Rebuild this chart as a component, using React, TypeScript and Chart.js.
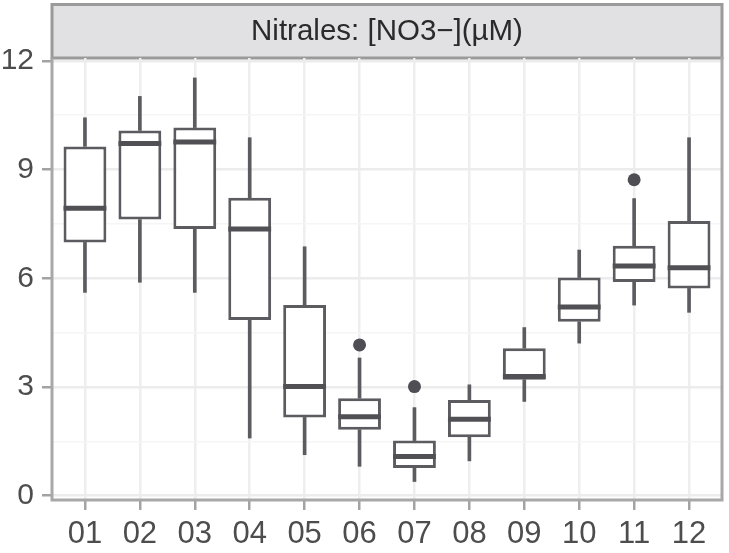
import React, { useEffect, useRef } from 'react';
import { Chart, registerables } from 'chart.js';

Chart.register(...registerables);

const stripLabel = 'Nitrales: [NO3\u2212](\u00b5M)';
const months = ['01', '02', '03', '04', '05', '06', '07', '08', '09', '10', '11', '12'];
const whiskerLow = [5.61, 5.89, 5.61, 1.59, 1.13, 0.81, 0.39, 0.96, 2.6, 4.21, 5.26, 5.06];
const q1 = [6.99, 7.62, 7.36, 4.85, 2.16, 1.82, 0.76, 1.61, 3.2, 4.8, 5.9, 5.72];
const median = [7.93, 9.72, 9.76, 7.36, 3.01, 2.18, 1.08, 2.11, 3.29, 5.21, 6.34, 6.29];
const q3 = [9.64, 10.08, 10.16, 8.22, 5.26, 2.69, 1.52, 2.64, 4.07, 6.02, 6.9, 7.58];
const whiskerHigh = [10.43, 11.02, 11.53, 9.88, 6.87, 3.8, 2.43, 3.06, 4.64, 6.78, 8.2, 9.88];
const outlierMonth = [5, 6, 10];
const outlierValue = [4.16, 3.01, 8.72];
const yTickValues = [0, 1.5, 3, 4.5, 6, 7.5, 9, 10.5, 12];

const FONT = '"Liberation Sans", Arial, Helvetica, sans-serif';
const BOX = '#5b5b60';

export default function App() {
  const ref = useRef<HTMLCanvasElement>(null);

  useEffect(() => {
    const canvas = ref.current;
    if (!canvas) return;
    const idx = months.map((_, i) => i);

    const facetPlugin = {
      id: 'facet',
      beforeDraw(chart: any) {
        const { ctx, chartArea } = chart;
        const w = chartArea.right - chartArea.left;
        ctx.save();
        ctx.fillStyle = '#e1e1e3';
        ctx.fillRect(chartArea.left, 4.5, w, chartArea.top - 4.5);
        ctx.strokeStyle = '#9a9a9a';
        ctx.lineWidth = 3;
        ctx.strokeRect(chartArea.left, 4.5, w, chartArea.top - 4.5);
        ctx.fillStyle = '#2a2a2a';
        ctx.font = '29.5px ' + FONT;
        ctx.textAlign = 'center';
        ctx.textBaseline = 'middle';
        ctx.fillText(stripLabel, (chartArea.left + chartArea.right) / 2, (4.5 + chartArea.top) / 2 + 1);
        ctx.restore();
      },
      afterDatasetsDraw(chart: any) {
        const { ctx } = chart;
        const yScale = chart.scales.y;
        const meta = chart.getDatasetMeta(0);
        ctx.save();
        ctx.strokeStyle = '#505055';
        ctx.lineWidth = 5;
        meta.data.forEach((el: any, i: number) => {
          const { x, width } = el.getProps(['x', 'width'], true);
          const y = yScale.getPixelForValue(median[i]);
          ctx.beginPath();
          ctx.moveTo(x - width / 2, y);
          ctx.lineTo(x + width / 2, y);
          ctx.stroke();
        });
        ctx.restore();
      },
      afterDraw(chart: any) {
        const { ctx, chartArea } = chart;
        ctx.save();
        ctx.strokeStyle = '#a8a8a8';
        ctx.lineWidth = 3;
        ctx.beginPath();
        ctx.moveTo(chartArea.left, chartArea.top);
        ctx.lineTo(chartArea.left, chartArea.bottom);
        ctx.lineTo(chartArea.right, chartArea.bottom);
        ctx.lineTo(chartArea.right, chartArea.top - 1);
        ctx.stroke();
        ctx.restore();
      },
    };

    const chart = new Chart(canvas, {
      type: 'bar',
      data: {
        datasets: [
          {
            type: 'bar',
            data: idx.map((i) => ({ x: i, y: [q1[i], q3[i]] })),
            backgroundColor: '#ffffff',
            borderColor: BOX,
            borderWidth: 3,
            borderSkipped: false,
            barPercentage: 0.78,
            categoryPercentage: 1,
            grouped: false,
          } as any,
          {
            type: 'bar',
            data: idx.map((i) => ({ x: i, y: [whiskerLow[i], q1[i]] })),
            backgroundColor: BOX,
            borderWidth: 0,
            barThickness: 3,
            grouped: false,
          } as any,
          {
            type: 'bar',
            data: idx.map((i) => ({ x: i, y: [q3[i], whiskerHigh[i]] })),
            backgroundColor: BOX,
            borderWidth: 0,
            barThickness: 3,
            grouped: false,
          } as any,
          {
            type: 'line',
            showLine: false,
            data: outlierMonth.map((m, k) => ({ x: m, y: outlierValue[k] })),
            pointRadius: 6.5,
            pointBackgroundColor: '#4e4e54',
            pointBorderWidth: 0,
          } as any,
        ],
      },
      options: {
        animation: false,
        responsive: false,
        events: [],
        layout: { padding: { top: 58, right: 7, bottom: 0, left: 0 } },
        plugins: { legend: { display: false }, tooltip: { enabled: false }, title: { display: false } },
        scales: {
          x: {
            type: 'linear',
            min: -0.6,
            max: 11.6,
            offset: false,
            afterBuildTicks: (s: any) => {
              s.ticks = idx.map((v) => ({ value: v }));
            },
            afterFit: (s: any) => {
              s.height = 53;
            },
            ticks: {
              autoSkip: false,
              maxRotation: 0,
              padding: 6,
              color: '#4d4d4d',
              font: { family: FONT, size: 31 },
              callback: (v: any) => months[Math.round(Number(v))] ?? '',
            },
            grid: {
              offset: false,
              color: '#eeeeee',
              lineWidth: 2.5,
              tickColor: '#a3a3a3',
              tickLength: 10,
              tickWidth: 2.5,
            },
            border: { display: false },
          } as any,
          y: {
            type: 'linear',
            min: -0.12,
            max: 12.08,
            afterBuildTicks: (s: any) => {
              s.ticks = yTickValues.map((v) => ({ value: v }));
            },
            afterFit: (s: any) => {
              s.width = 52;
            },
            ticks: {
              padding: 8,
              color: '#4d4d4d',
              font: { family: FONT, size: 30 },
              callback: (v: any) => (Number(v) % 3 === 0 ? String(v) : ''),
            },
            grid: {
              color: (c: any) => (c.tick && c.tick.value % 3 === 0 ? '#ececec' : '#f5f5f5'),
              lineWidth: (c: any) => (c.tick && c.tick.value % 3 === 0 ? 2.5 : 1.5),
              tickColor: (c: any) => (c.tick && c.tick.value % 3 === 0 ? '#a3a3a3' : 'rgba(0,0,0,0)'),
              tickLength: 10,
              tickWidth: 2.5,
            },
            border: { display: false },
          } as any,
        },
      },
      plugins: [facetPlugin],
    });

    return () => chart.destroy();
  }, []);

  return (
    <div style={{ position: 'fixed', left: 0, top: 0, width: 729, height: 553, background: '#ffffff' }}>
      <canvas ref={ref} width={729} height={553} style={{ width: 729, height: 553, display: 'block' }} />
    </div>
  );
}
